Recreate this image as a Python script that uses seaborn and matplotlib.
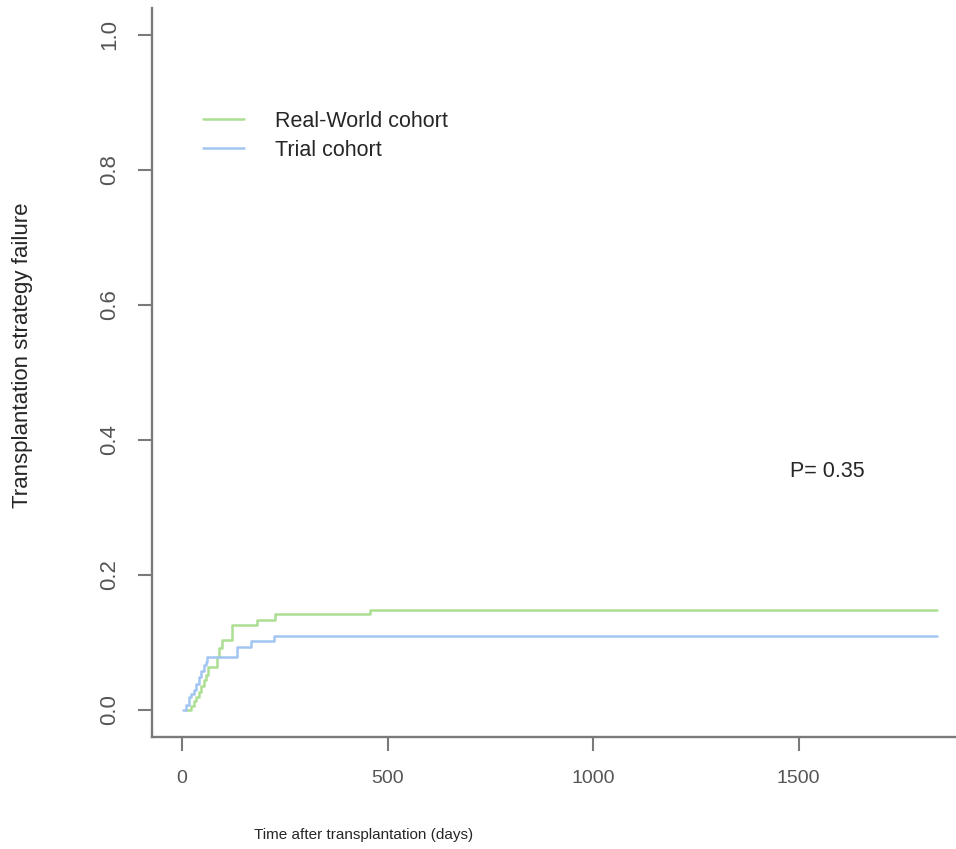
import numpy as np
import pandas as pd
import seaborn as sns
from matplotlib import pyplot as plt

# cumulative incidence step curves
rw_days = [10, 22, 28, 34, 40, 46, 52, 58, 64, 84, 90, 97, 122, 182, 226, 457, 1836]
rw_fail = [0, 0.006, 0.013, 0.019, 0.026, 0.035, 0.045, 0.052, 0.064, 0.078, 0.092,
           0.104, 0.126, 0.134, 0.142, 0.148, 0.148]

trial_days = [2, 10, 16, 22, 28, 34, 40, 46, 52, 57, 61, 134, 167, 224, 1836]
trial_fail = [0, 0.008, 0.019, 0.024, 0.030, 0.039, 0.049, 0.058, 0.066, 0.071,
              0.079, 0.093, 0.102, 0.109, 0.109]

x_ticks = [0, 500, 1000, 1500]
y_ticks = [0.0, 0.2, 0.4, 0.6, 0.8, 1.0]
p_text = 'P= 0.35'

sns.set_style('white')
plt.rcParams['font.family'] = ['Liberation Sans', 'DejaVu Sans']

fig = plt.figure(figsize=(9.56, 8.49), dpi=100)
ax = fig.add_axes([152 / 956, 1 - 737 / 849, 815 / 956, 729 / 849])

rw = pd.DataFrame({'days': rw_days, 'fail': rw_fail})
tr = pd.DataFrame({'days': trial_days, 'fail': trial_fail})
sns.lineplot(data=rw, x='days', y='fail', drawstyle='steps-post', color='#addf93',
             linewidth=1.8, label='Real-World cohort', ax=ax)
sns.lineplot(data=tr, x='days', y='fail', drawstyle='steps-post', color='#a2c5f2',
             linewidth=1.8, label='Trial cohort', ax=ax)

ax.set_xlim(-0.04 * 1836, 1.04 * 1836)
ax.set_ylim(-0.04, 1.04)
ax.set_xticks(x_ticks)
ax.set_yticks(y_ticks)
ax.set_yticklabels([f'{v:.1f}' for v in y_ticks])

for s in ['top', 'right']:
    ax.spines[s].set_visible(False)
for s in ['left', 'bottom']:
    ax.spines[s].set_color('#7a7a7a')
    ax.spines[s].set_linewidth(1.7)

ax.tick_params(axis='both', direction='out', length=10, width=1.5, color='#7a7a7a',
               labelcolor='#555555', bottom=True, left=True)
ax.tick_params(axis='x', pad=13.5, labelsize=14)
ax.tick_params(axis='y', pad=13, labelrotation=90, labelsize=16)
for lab in ax.get_yticklabels():
    lab.set_va('center')

ax.set_xlabel('Time after transplantation (days)', fontsize=11, va='center')
ax.xaxis.set_label_coords(0.26, -0.135)
ax.set_ylabel('Transplantation strategy failure', fontsize=16)
ax.yaxis.set_label_coords(-0.146, 0.523)

ax.text(1480, 0.353, p_text, fontsize=15.5, ha='left', va='center')

ax.legend(loc='upper left', bbox_to_anchor=(0.0626, 0.859), frameon=False, fontsize=15.5,
          handlelength=1.9, handletextpad=1.45, labelspacing=0.36, borderpad=0,
          borderaxespad=0)

fig.savefig('out.png', dpi=100)
